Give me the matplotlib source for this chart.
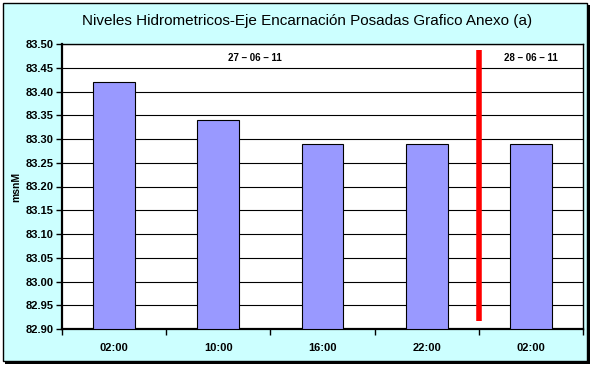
import matplotlib
matplotlib.use("Agg")
import matplotlib.pyplot as plt
from matplotlib.patches import Rectangle
import numpy as np

categories = ["02:00", "10:00", "16:00", "22:00", "02:00"]
values = [83.42, 83.34, 83.29, 83.29, 83.29]
yticks = [82.90, 82.95, 83.00, 83.05, 83.10, 83.15, 83.20, 83.25, 83.30, 83.35, 83.40, 83.45, 83.50]
title = "Niveles Hidrometricos-Eje Encarnación Posadas Grafico Anexo (a)"
date_labels = ["27 – 06 – 11", "28 – 06 – 11"]
date_x = [1.35, 4.0]
divider_x = 3.5
divider_y = [82.917, 83.487]

plt.rcParams['font.family'] = ['Liberation Sans', 'DejaVu Sans']

W, H = 595, 373
fig = plt.figure(figsize=(W/100, H/100), dpi=100)
fig.patch.set_facecolor("white")

# chart area background with shadow
fig.patches.append(Rectangle((5/W, 1 - 364/H), 585/W, 359/H, transform=fig.transFigure,
                             facecolor="black", edgecolor="none", zorder=0))
fig.patches.append(Rectangle((3/W, 1 - 361/H), 584/W, 358/H, transform=fig.transFigure,
                             facecolor="#CCFFFF", edgecolor="black", linewidth=1.0, zorder=1))

left, right, top, bottom = 62, 583, 44, 329
ax = fig.add_axes([left/W, 1 - bottom/H, (right-left)/W, (bottom-top)/H])
ax.set_facecolor("white")
ax.set_zorder(2)

x = np.arange(len(categories))
ax.bar(x, [v - 82.90 for v in values], bottom=82.90, width=0.4,
       color="#9999FF", edgecolor="black", linewidth=0.8, zorder=3)

ax.set_ylim(82.90, 83.50)
ax.set_xlim(-0.5, len(categories) - 0.5)
ax.set_yticks(yticks)
ax.set_yticklabels([f"{t:.2f}" for t in yticks], fontsize=8, fontweight="bold")
ax.yaxis.grid(True, color="black", linewidth=0.8, zorder=1)
ax.set_axisbelow(True)

ax.set_xticks(x)
ax.set_xticklabels(categories, fontsize=8, fontweight="bold")
ax.set_xticks(np.arange(len(categories) + 1) - 0.5, minor=True)
ax.tick_params(axis="x", which="major", length=0, pad=10)
ax.tick_params(axis="x", which="minor", length=4, width=1, direction="out")
ax.tick_params(axis="y", length=4, width=1, direction="out", pad=2)

for s in ["left", "bottom"]:
    ax.spines[s].set_linewidth(1.6)
for s in ["top", "right"]:
    ax.spines[s].set_linewidth(1.0)

ax.set_ylabel("msnM", fontsize=7.5, fontweight="bold", labelpad=3)

ax.plot([divider_x, divider_x], divider_y, color="red", linewidth=4, solid_capstyle="butt", zorder=4)

for lbl, dx in zip(date_labels, date_x):
    ax.text(dx, 83.47, lbl, ha="center", va="center", fontsize=7, fontweight="bold", zorder=5)

fig.text(307/W, 1 - 21/H, title, ha="center", va="center", fontsize=11, zorder=5)

fig.savefig("out.png", dpi=100)
